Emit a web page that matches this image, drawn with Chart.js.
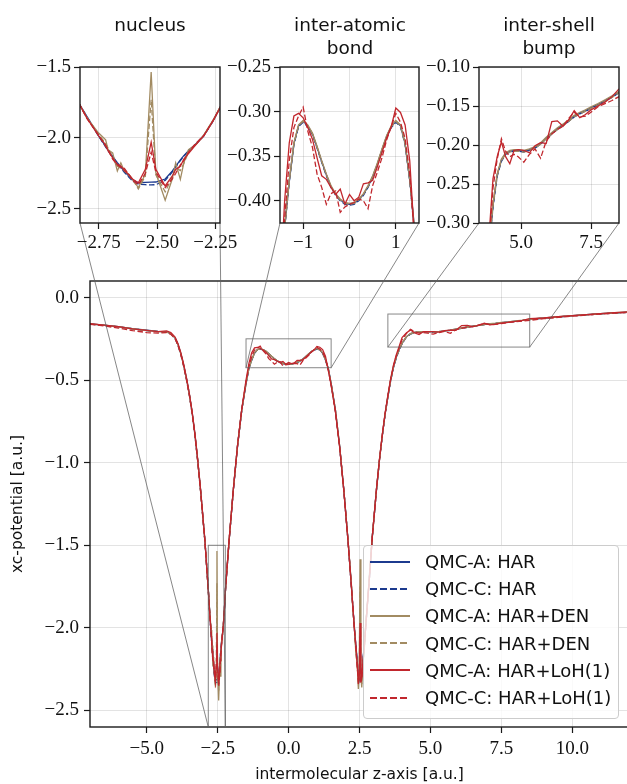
<!DOCTYPE html>
<html lang="en">
<head>
    <meta charset="UTF-8">
    <title>xc-potential along the molecular axis</title>
    <script src="https://cdn.jsdelivr.net/npm/chart.js"></script>
    <style>
        body {
            margin: 0;
            width: 627px;
            height: 784px;
            overflow: hidden;
            position: relative;
            background: #fff;
            font-family: "DejaVu Sans", sans-serif;
        }

        canvas {
            position: absolute;
        }

        .inset-title {
            position: absolute;
            width: 160px;
            text-align: center;
            font-size: 18.5px;
            line-height: 23px;
            color: #111;
        }

        #legend {
            position: absolute;
            left: 363px;
            top: 545px;
            width: 254px;
            height: 170px;
            padding-top: 2px;
            box-sizing: content-box;
            border: 1px solid #cccccc;
            border-radius: 4px;
            background: rgba(255, 255, 255, 0.8);
        }

        .legend-row {
            height: 27.2px;
            display: flex;
            align-items: center;
            padding-left: 6px;
            font-size: 18px;
            color: #111;
            white-space: nowrap;
        }

        .legend-row svg {
            margin-right: 15px;
        }
    </style>
</head>
<body>

    <canvas id="mainChart" width="630" height="784" style="left:0;top:0"></canvas>
    <canvas id="nucleusChart" width="250" height="260" style="left:0;top:0"></canvas>
    <canvas id="bondChart" width="215" height="260" style="left:220px;top:0"></canvas>
    <canvas id="shellChart" width="207" height="260" style="left:420px;top:0"></canvas>

    <div class="inset-title" style="left:70px;top:13px">nucleus</div>
    <div class="inset-title" style="left:270px;top:13px">inter-atomic<br>bond</div>
    <div class="inset-title" style="left:469px;top:13px">inter-shell<br>bump</div>

    <div id="legend"></div>

    <script>
        // z positions shared by every series (fine steps where the insets zoom in)
        var zAxis = [
            -7, -6.5, -6, -5.5, -5, -4.6, -4.3, -4.15, -4.0, -3.9, -3.8, -3.7, -3.6, -3.5, -3.4, -3.3, -3.2, -3.1, -2.95,
            -2.83, -2.80, -2.75, -2.72, -2.71, -2.69, -2.67, -2.655, -2.64, -2.62, -2.605, -2.58, -2.55, -2.525, -2.505, -2.465, -2.435, -2.42, -2.40, -2.385, -2.365, -2.335, -2.30, -2.26, -2.22,
            -2.1, -1.95, -1.8, -1.65,
            -1.5, -1.4, -1.3, -1.2, -1.1, -1.0, -0.9, -0.8, -0.7, -0.6, -0.5, -0.4, -0.3, -0.2, -0.1, 0, 0.1, 0.2, 0.3, 0.4, 0.5, 0.6, 0.7, 0.8, 0.9, 1.0, 1.1, 1.2, 1.3, 1.4, 1.5,
            1.65, 1.8, 1.95, 2.1,
            2.22, 2.27, 2.32, 2.37, 2.42, 2.46, 2.49, 2.52, 2.55, 2.58, 2.62, 2.67, 2.72, 2.78, 2.84,
            2.95, 3.1, 3.2, 3.3, 3.4, 3.5, 3.6, 3.7, 3.8,
            3.9, 4.0, 4.15, 4.3, 4.45, 4.6, 4.75, 4.9, 5.1, 5.3, 5.5, 5.7, 5.9, 6.1, 6.3, 6.5, 6.7, 6.9, 7.1, 7.3, 7.5, 7.75, 8.0, 8.25, 8.5,
            9, 9.5, 10, 10.5, 11, 11.5, 12
        ];

        var harA = [
            -0.160, -0.168, -0.176, -0.188, -0.198, -0.205, -0.208, -0.218, -0.245, -0.283, -0.338, -0.408, -0.490, -0.583, -0.695, -0.830, -0.990, -1.170, -1.470,
            -1.768, -1.850, -1.985, -2.060, -2.085, -2.130, -2.175, -2.205, -2.235, -2.270, -2.295, -2.316, -2.314, -2.312, -2.311, -2.290, -2.235, -2.200, -2.155, -2.125, -2.090, -2.045, -1.985, -1.880, -1.755,
            -1.480, -1.170, -0.900, -0.680,
            -0.520, -0.430, -0.378, -0.336, -0.316, -0.311, -0.316, -0.325, -0.340, -0.356, -0.371, -0.384, -0.393, -0.399, -0.403, -0.404, -0.403, -0.399, -0.393, -0.384, -0.373, -0.359, -0.343, -0.328, -0.317, -0.311, -0.316, -0.336, -0.376, -0.430, -0.520,
            -0.680, -0.900, -1.170, -1.480,
            -1.760, -1.880, -2.000, -2.100, -2.200, -2.280, -2.318, -2.318, -2.316, -2.280, -2.200, -2.100, -1.990, -1.850, -1.720,
            -1.450, -1.160, -0.990, -0.840, -0.710, -0.600, -0.500, -0.420, -0.360,
            -0.315, -0.278, -0.238, -0.219, -0.211, -0.208, -0.207, -0.207, -0.208, -0.206, -0.203, -0.198, -0.191, -0.185, -0.179, -0.174, -0.169, -0.163, -0.159, -0.156, -0.152, -0.148, -0.143, -0.138, -0.132,
            -0.124, -0.117, -0.110, -0.104, -0.098, -0.093, -0.088
        ];

        var harC = [
            -0.161, -0.169, -0.178, -0.190, -0.200, -0.207, -0.210, -0.220, -0.248, -0.287, -0.342, -0.412, -0.494, -0.587, -0.699, -0.834, -0.994, -1.174, -1.475,
            -1.770, -1.852, -1.988, -2.064, -2.090, -2.136, -2.182, -2.212, -2.242, -2.278, -2.304, -2.326, -2.330, -2.331, -2.330, -2.300, -2.242, -2.206, -2.160, -2.130, -2.094, -2.048, -1.988, -1.882, -1.757,
            -1.482, -1.172, -0.902, -0.682,
            -0.522, -0.432, -0.379, -0.337, -0.317, -0.312, -0.317, -0.326, -0.341, -0.357, -0.372, -0.385, -0.394, -0.400, -0.404, -0.405, -0.404, -0.400, -0.394, -0.385, -0.374, -0.360, -0.344, -0.329, -0.318, -0.312, -0.317, -0.337, -0.378, -0.432, -0.522,
            -0.682, -0.902, -1.172, -1.482,
            -1.762, -1.884, -2.006, -2.108, -2.210, -2.292, -2.330, -2.332, -2.328, -2.290, -2.206, -2.104, -1.994, -1.853, -1.722,
            -1.452, -1.163, -0.993, -0.843, -0.713, -0.603, -0.503, -0.423, -0.363,
            -0.317, -0.280, -0.240, -0.221, -0.212, -0.209, -0.208, -0.208, -0.209, -0.207, -0.204, -0.199, -0.192, -0.186, -0.180, -0.175, -0.170, -0.164, -0.160, -0.157, -0.153, -0.149, -0.144, -0.139, -0.133,
            -0.125, -0.118, -0.111, -0.105, -0.099, -0.094, -0.089
        ];

        var denA = [
            -0.160, -0.168, -0.177, -0.189, -0.199, -0.206, -0.209, -0.219, -0.246, -0.285, -0.340, -0.410, -0.492, -0.585, -0.697, -0.832, -0.992, -1.172, -1.472,
            -1.768, -1.860, -1.966, -2.013, -2.083, -2.106, -2.234, -2.176, -2.234, -2.257, -2.292, -2.350, -2.257, -1.535, -2.246, -2.440, -2.292, -2.176, -2.292, -2.176, -2.083, -2.048, -1.980, -1.875, -1.752,
            -1.478, -1.168, -0.898, -0.679,
            -0.519, -0.429, -0.377, -0.335, -0.315, -0.310, -0.315, -0.324, -0.339, -0.355, -0.370, -0.383, -0.392, -0.398, -0.402, -0.403, -0.402, -0.398, -0.392, -0.383, -0.372, -0.358, -0.342, -0.327, -0.316, -0.310, -0.315, -0.335, -0.375, -0.429, -0.519,
            -0.679, -0.898, -1.168, -1.478,
            -1.750, -1.900, -1.990, -2.150, -2.220, -2.370, -2.280, -1.585, -2.300, -2.360, -2.220, -2.130, -1.970, -1.860, -1.700,
            -1.448, -1.158, -0.988, -0.838, -0.708, -0.598, -0.498, -0.418, -0.358,
            -0.313, -0.276, -0.237, -0.218, -0.210, -0.207, -0.206, -0.206, -0.207, -0.205, -0.202, -0.197, -0.190, -0.184, -0.178, -0.173, -0.168, -0.162, -0.158, -0.155, -0.151, -0.147, -0.142, -0.137, -0.131,
            -0.123, -0.116, -0.109, -0.103, -0.097, -0.092, -0.087
        ];

        var denC = [
            -0.161, -0.169, -0.178, -0.190, -0.200, -0.207, -0.210, -0.220, -0.247, -0.286, -0.341, -0.411, -0.493, -0.586, -0.698, -0.833, -0.993, -1.173, -1.474,
            -1.770, -1.855, -1.975, -2.040, -2.070, -2.140, -2.200, -2.215, -2.220, -2.265, -2.290, -2.360, -2.270, -1.730, -2.260, -2.380, -2.280, -2.210, -2.230, -2.180, -2.100, -2.050, -1.985, -1.880, -1.756,
            -1.480, -1.170, -0.900, -0.680,
            -0.521, -0.431, -0.378, -0.336, -0.316, -0.311, -0.316, -0.325, -0.340, -0.356, -0.371, -0.384, -0.393, -0.399, -0.403, -0.404, -0.403, -0.399, -0.393, -0.384, -0.373, -0.359, -0.343, -0.328, -0.317, -0.311, -0.316, -0.336, -0.377, -0.431, -0.521,
            -0.680, -0.900, -1.170, -1.480,
            -1.755, -1.890, -2.000, -2.130, -2.230, -2.330, -2.300, -1.750, -2.290, -2.340, -2.230, -2.120, -1.980, -1.855, -1.710,
            -1.450, -1.160, -0.990, -0.840, -0.710, -0.600, -0.500, -0.420, -0.360,
            -0.315, -0.278, -0.239, -0.220, -0.212, -0.209, -0.208, -0.208, -0.209, -0.207, -0.204, -0.199, -0.192, -0.186, -0.180, -0.175, -0.170, -0.164, -0.160, -0.157, -0.153, -0.149, -0.144, -0.139, -0.133,
            -0.125, -0.118, -0.111, -0.105, -0.099, -0.094, -0.089
        ];

        var lohA = [
            -0.158, -0.167, -0.176, -0.190, -0.199, -0.207, -0.202, -0.212, -0.240, -0.278, -0.332, -0.402, -0.485, -0.578, -0.690, -0.825, -0.985, -1.165, -1.468,
            -1.770, -1.860, -1.985, -2.050, -2.090, -2.140, -2.187, -2.199, -2.230, -2.260, -2.290, -2.316, -2.222, -2.030, -2.222, -2.339, -2.270, -2.222, -2.200, -2.150, -2.110, -2.050, -1.985, -1.880, -1.757,
            -1.475, -1.165, -0.895, -0.675,
            -0.500, -0.400, -0.335, -0.305, -0.302, -0.307, -0.318, -0.331, -0.352, -0.372, -0.376, -0.385, -0.393, -0.387, -0.404, -0.393, -0.400, -0.396, -0.381, -0.380, -0.377, -0.362, -0.346, -0.330, -0.317, -0.296, -0.301, -0.315, -0.355, -0.440, -0.530,
            -0.690, -0.905, -1.175, -1.485,
            -1.765, -1.880, -2.010, -2.100, -2.220, -2.340, -2.300, -1.970, -2.330, -2.300, -2.210, -2.110, -1.990, -1.850, -1.720,
            -1.450, -1.155, -0.985, -0.835, -0.703, -0.592, -0.490, -0.408, -0.345,
            -0.295, -0.243, -0.215, -0.196, -0.215, -0.224, -0.207, -0.206, -0.207, -0.210, -0.201, -0.197, -0.198, -0.170, -0.169, -0.176, -0.168, -0.156, -0.165, -0.161, -0.155, -0.150, -0.145, -0.138, -0.128,
            -0.124, -0.116, -0.110, -0.103, -0.098, -0.092, -0.087
        ];

        var lohC = [
            -0.162, -0.172, -0.185, -0.200, -0.212, -0.216, -0.212, -0.222, -0.250, -0.290, -0.345, -0.415, -0.497, -0.590, -0.702, -0.837, -0.997, -1.177, -1.476,
            -1.770, -1.865, -1.980, -2.060, -2.080, -2.150, -2.190, -2.210, -2.215, -2.260, -2.300, -2.330, -2.250, -2.100, -2.240, -2.350, -2.290, -2.250, -2.190, -2.160, -2.100, -2.040, -1.985, -1.880, -1.757,
            -1.478, -1.168, -0.898, -0.678,
            -0.510, -0.420, -0.355, -0.318, -0.305, -0.295, -0.322, -0.340, -0.370, -0.385, -0.404, -0.392, -0.389, -0.413, -0.407, -0.404, -0.402, -0.398, -0.400, -0.409, -0.383, -0.368, -0.352, -0.332, -0.317, -0.302, -0.312, -0.330, -0.370, -0.440, -0.530,
            -0.688, -0.903, -1.173, -1.483,
            -1.763, -1.885, -2.005, -2.120, -2.240, -2.320, -2.310, -2.050, -2.320, -2.310, -2.220, -2.115, -1.995, -1.852, -1.722,
            -1.452, -1.160, -0.990, -0.840, -0.708, -0.597, -0.495, -0.413, -0.352,
            -0.305, -0.255, -0.218, -0.192, -0.208, -0.215, -0.212, -0.215, -0.222, -0.212, -0.205, -0.217, -0.195, -0.186, -0.180, -0.176, -0.166, -0.158, -0.164, -0.163, -0.158, -0.151, -0.147, -0.143, -0.138,
            -0.128, -0.120, -0.113, -0.106, -0.100, -0.095, -0.090
        ];

        var seriesLabels = ['QMC-A: HAR', 'QMC-C: HAR', 'QMC-A: HAR+DEN', 'QMC-C: HAR+DEN', 'QMC-A: HAR+LoH(1)', 'QMC-C: HAR+LoH(1)'];
        var seriesValues = [harA, harC, denA, denC, lohA, lohC];
        var seriesColors = ['#1c3a8e', '#1c3a8e', '#a28b62', '#a28b62', '#c1272d', '#c1272d'];
        var seriesDashed = [false, true, false, true, false, true];

        // axis ranges and tick values
        var mainXRange = [-7, 12];
        var mainYRange = [-2.6, 0.1];
        var mainXTicks = [-5, -2.5, 0, 2.5, 5, 7.5, 10];
        var mainYTicks = [-2.5, -2, -1.5, -1, -0.5, 0];

        var nucleusXRange = [-2.83, -2.23];
        var nucleusYRange = [-2.6, -1.5];
        var nucleusXTicks = [-2.75, -2.5, -2.25];
        var nucleusYTicks = [-2.5, -2, -1.5];

        var bondXRange = [-1.5, 1.5];
        var bondYRange = [-0.425, -0.25];
        var bondXTicks = [-1, 0, 1];
        var bondYTicks = [-0.4, -0.35, -0.3, -0.25];

        var shellXRange = [3.5, 8.5];
        var shellYRange = [-0.30, -0.10];
        var shellXTicks = [5, 7.5];
        var shellYTicks = [-0.3, -0.25, -0.2, -0.15, -0.1];

        var tickFont = { family: '"Liberation Serif", serif', size: 19 };
        var labelFont = { family: '"DejaVu Sans", sans-serif', size: 15.5 };

        function fmt(decimals) {
            return function (v) {
                return v.toFixed(decimals).replace('-', '\u2212');
            };
        }

        function buildDatasets() {
            return seriesLabels.map(function (label, i) {
                return {
                    label: label,
                    data: zAxis.map(function (z, k) { return { x: z, y: seriesValues[i][k] }; }),
                    borderColor: seriesColors[i],
                    borderWidth: 1.3,
                    borderDash: seriesDashed[i] ? [5.5, 2.5] : [],
                    pointRadius: 0,
                    fill: false,
                    tension: 0,
                    order: seriesLabels.length - i
                };
            });
        }

        function axis(range, ticks, decimals, size, isX, pad) {
            return {
                type: 'linear',
                position: isX ? 'bottom' : 'left',
                min: range[0],
                max: range[1],
                bounds: 'data',
                afterBuildTicks: function (a) {
                    a.ticks = ticks.map(function (v) { return { value: v }; });
                },
                afterFit: function (a) {
                    if (isX) { a.height = size; } else { a.width = size; }
                },
                border: { display: false },
                grid: {
                    color: 'rgba(0,0,0,0.11)',
                    lineWidth: 1,
                    drawTicks: true,
                    tickLength: 6,
                    tickColor: '#1a1a1a',
                    tickWidth: 1.2
                },
                ticks: {
                    font: tickFont,
                    color: '#111',
                    padding: pad,
                    autoSkip: false,
                    maxRotation: 0,
                    callback: fmt(decimals)
                }
            };
        }

        // black frame round the plot area
        var spinePlugin = {
            id: 'spines',
            afterDraw: function (chart) {
                var a = chart.chartArea, ctx = chart.ctx;
                ctx.save();
                ctx.strokeStyle = '#1a1a1a';
                ctx.lineWidth = 1.4;
                ctx.strokeRect(a.left, a.top, a.right - a.left, a.bottom - a.top);
                ctx.restore();
            }
        };

        function makeInset(id, xRange, yRange, xTicks, yTicks, xDec, yDec, yWidth, padRight) {
            var canvas = document.getElementById(id);
            var chart = new Chart(canvas.getContext('2d'), {
                type: 'line',
                data: { datasets: buildDatasets() },
                options: {
                    responsive: false,
                    animation: false,
                    devicePixelRatio: 1,
                    layout: { padding: { top: 67, left: 0, right: padRight, bottom: 0 } },
                    plugins: { legend: { display: false }, tooltip: { enabled: false } },
                    scales: {
                        x: axis(xRange, xTicks, xDec, canvas.height - 223, true, 3),
                        y: axis(yRange, yTicks, yDec, yWidth, false, 3)
                    }
                },
                plugins: [spinePlugin]
            });
            return {
                chart: chart,
                xRange: xRange,
                yRange: yRange,
                left: canvas.offsetLeft,
                top: canvas.offsetTop
            };
        }

        var insets = [
            makeInset('nucleusChart', nucleusXRange, nucleusYRange, nucleusXTicks, nucleusYTicks, 2, 1, 80, 30),
            makeInset('bondChart', bondXRange, bondYRange, bondXTicks, bondYTicks, 0, 2, 60, 16),
            makeInset('shellChart', shellXRange, shellYRange, shellXTicks, shellYTicks, 1, 2, 59, 8)
        ];

        // zoom rectangles on the main axes and the connector lines to each inset
        var zoomPlugin = {
            id: 'zoomMarks',
            afterDraw: function (chart) {
                var xs = chart.scales.x, ys = chart.scales.y, ctx = chart.ctx;
                ctx.save();
                ctx.strokeStyle = 'rgba(95,95,95,0.75)';
                ctx.lineWidth = 1;
                insets.forEach(function (inset) {
                    var l = xs.getPixelForValue(inset.xRange[0]);
                    var r = xs.getPixelForValue(inset.xRange[1]);
                    var t = ys.getPixelForValue(inset.yRange[1]);
                    var b = ys.getPixelForValue(inset.yRange[0]);
                    var area = inset.chart.chartArea;
                    ctx.strokeRect(l, t, r - l, b - t);
                    ctx.beginPath();
                    ctx.moveTo(l, b);
                    ctx.lineTo(inset.left + area.left, inset.top + area.bottom);
                    ctx.moveTo(r, b);
                    ctx.lineTo(inset.left + area.right, inset.top + area.bottom);
                    ctx.stroke();
                });
                ctx.restore();
            }
        };

        var mainX = axis(mainXRange, mainXTicks, 1, 57, true, 5);
        mainX.title = { display: true, text: 'intermolecular z-axis [a.u.]', font: labelFont, color: '#111', padding: { top: 0, bottom: 0 } };
        var mainY = axis(mainYRange, mainYTicks, 1, 90, false, 5);
        mainY.title = { display: true, text: 'xc-potential [a.u.]', font: labelFont, color: '#111', padding: { top: 9, bottom: 0 } };

        var mainChart = new Chart(document.getElementById('mainChart').getContext('2d'), {
            type: 'line',
            data: { datasets: buildDatasets() },
            options: {
                responsive: false,
                animation: false,
                devicePixelRatio: 1,
                layout: { padding: { top: 281, left: 0, right: 1, bottom: 0 } },
                plugins: { legend: { display: false }, tooltip: { enabled: false } },
                scales: { x: mainX, y: mainY }
            },
            plugins: [spinePlugin, zoomPlugin]
        });

        // legend, built from the series arrays
        var legendBox = document.getElementById('legend');
        seriesLabels.forEach(function (label, i) {
            var row = document.createElement('div');
            row.className = 'legend-row';
            row.innerHTML = '<svg width="40" height="6"><line x1="0" y1="3" x2="40" y2="3" stroke="' + seriesColors[i] +
                '" stroke-width="1.8"' + (seriesDashed[i] ? ' stroke-dasharray="7,3"' : '') + '/></svg><span>' + label + '</span>';
            legendBox.appendChild(row);
        });
    </script>

</body>
</html>
